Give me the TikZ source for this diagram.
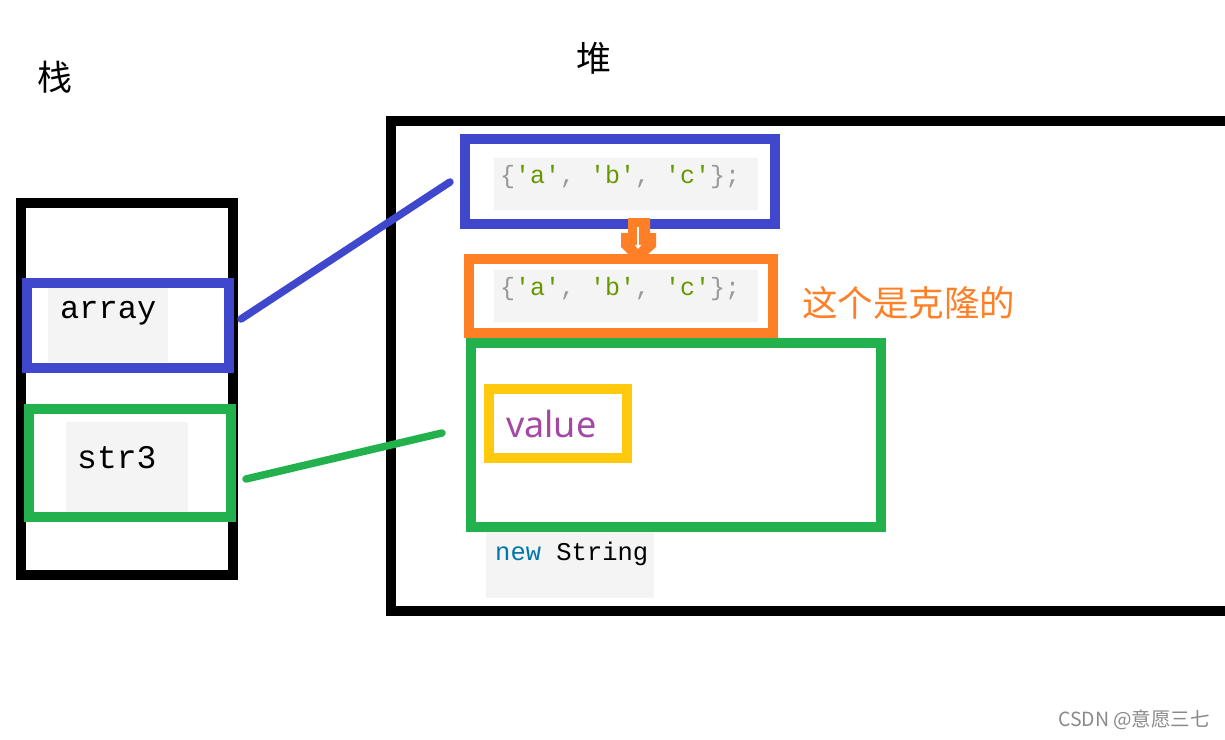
\documentclass[tikz,border=0pt]{standalone}
\usepackage{fontspec}
\usetikzlibrary{arrows.meta}
\newfontfamily\cjk{Noto Sans CJK SC}
\newfontfamily\codefont{Liberation Mono}
\newfontfamily\uisans{Noto Sans}
\definecolor{pblue}{HTML}{3F48CC}
\definecolor{pgreen}{HTML}{22B14C}
\definecolor{porange}{HTML}{FF7F27}
\definecolor{pyellow}{HTML}{FFC90E}
\definecolor{ppurple}{HTML}{A349A4}
\definecolor{codebg}{HTML}{F4F4F4}
\definecolor{codegray}{HTML}{999999}
\definecolor{codegreen}{HTML}{669900}
\definecolor{codekw}{HTML}{0077AA}
\tikzset{
  frame/.style={draw, line width=10pt, inner sep=0pt, outer sep=0pt, anchor=north west},
  bg/.style={fill=codebg, draw=none, inner sep=0pt, outer sep=0pt, anchor=north west},
  conn/.style={line width=7.5pt, line cap=round},
  lbl/.style={inner sep=0pt, anchor=base west},
}
\newcommand{\qa}[1]{\textcolor{codegreen}{'#1'}}
\begin{document}
\begin{tikzpicture}[x=1pt,y=-1pt]
\useasboundingbox[fill=white] (0,0) rectangle (1225,739);
% titles
\node[inner sep=0pt, font=\cjk\fontsize{35}{35}\selectfont] (zhan) at (55,77) {栈};
\node[inner sep=0pt, font=\cjk\fontsize{35}{35}\selectfont] (dui) at (594,58) {堆};
% stack frame
\node[frame, minimum width=212pt, minimum height=372pt] (stack) at (21,203) {};
% code backgrounds
\node[bg, minimum width=120pt, minimum height=74pt] (arrbg) at (48,288) {};
\node[bg, minimum width=122pt, minimum height=90pt] (strbg) at (66,422) {};
\node[bg, minimum width=264pt, minimum height=52pt] (c1bg) at (494,158) {};
\node[bg, minimum width=264pt, minimum height=52pt] (c2bg) at (494,270) {};
\node[bg, minimum width=168pt, minimum height=72pt] (nsbg) at (486,526) {};
% texts in stack
\node[lbl, font=\codefont\fontsize{32}{32}\selectfont] (arrtxt) at (60,318) {array};
\node[lbl, font=\codefont\fontsize{33}{33}\selectfont] (strtxt) at (77,468) {str3};
% stack frames
\node[frame, draw=pblue, minimum width=202pt, minimum height=85pt] (arr) at (27,283) {};
\node[frame, draw=pgreen, minimum width=202pt, minimum height=108pt] (str) at (29,409) {};
% heap frame (open to the right)
\coordinate (htr) at (1235,121);
\coordinate (htl) at (391,121);
\coordinate (hbl) at (391,611);
\coordinate (hbr) at (1235,611);
\draw[line width=10pt] (htr) -- (htl) -- (hbl) -- (hbr);
% code texts
\node[lbl, font=\codefont\fontsize{25}{25}\selectfont, text=codegray] (c1txt) at (500,183) {\{\qa{a}, \qa{b}, \qa{c}\};};
\node[lbl, font=\codefont\fontsize{25}{25}\selectfont, text=codegray] (c2txt) at (500,295) {\{\qa{a}, \qa{b}, \qa{c}\};};
\node[lbl, font=\codefont\fontsize{25.5}{25.5}\selectfont] (nstxt) at (495,560) {\textcolor{codekw}{new} String};
% heap frames
\node[frame, draw=pblue, minimum width=310pt, minimum height=85pt] (orig) at (465,139) {};
\node[frame, draw=porange, minimum width=304pt, minimum height=74pt] (clone) at (469,259) {};
\node[frame, draw=pgreen, minimum width=410pt, minimum height=184pt] (obj) at (471,343) {};
\node[frame, draw=pyellow, minimum width=138pt, minimum height=69pt] (val) at (489,389) {};
\node[lbl, font=\uisans\fontsize{36}{36}\selectfont, text=ppurple] (valtxt) at (506,437) {value};
% clone arrow
\coordinate (ta) at (638,227);
\coordinate (tb) at (638,249);
\fill[porange] (628,218) -- (650,218) -- (650,233) -- (656,233) -- (656,247) -- (647,255) -- (629,255) -- (621,247) -- (621,233) -- (628,233) -- cycle;
\draw[white, line width=1.3pt, -{Straight Barb[length=3pt,width=5pt]}] (ta) -- (tb);
% label
\node[inner sep=0pt, font=\cjk\fontsize{35.5}{35.5}\selectfont, text=porange, anchor=west] (note) at (802,303) {这个是克隆的};
% connectors
\coordinate (b1) at (241,319);
\coordinate (b2) at (450,182);
\coordinate (g1) at (246,479);
\coordinate (g2) at (442,433);
\draw[conn, pblue] (b1) -- (b2);
\draw[conn, pgreen] (g1) -- (g2);
% watermark
\node[inner sep=0pt, font=\cjk\fontsize{19.5}{19.5}\selectfont, text=codegray!90!black] (wm) at (1134,720) {CSDN @意愿三七};
\end{tikzpicture}
\end{document}
